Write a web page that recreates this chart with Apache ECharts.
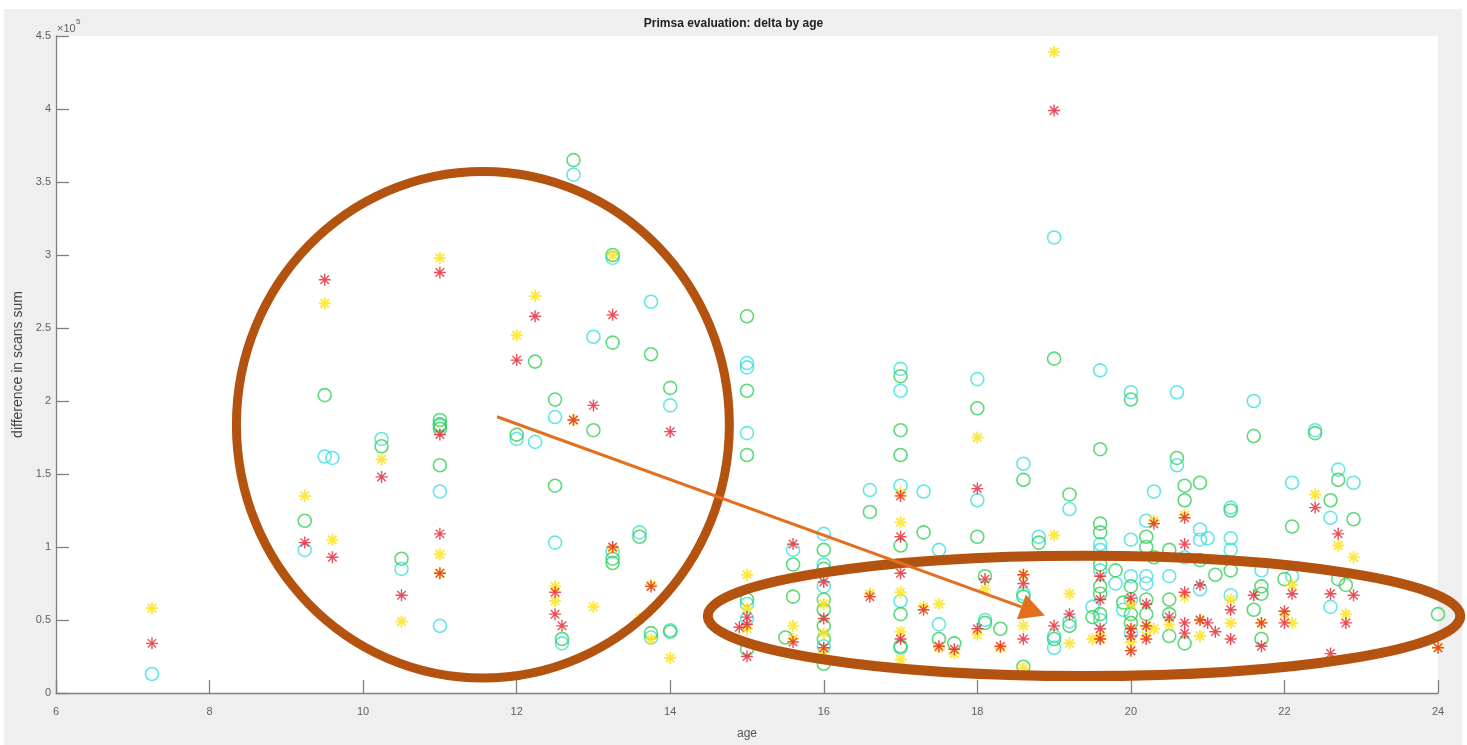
<!DOCTYPE html>
<html><head><meta charset="utf-8">
<script src="https://cdn.jsdelivr.net/npm/echarts@6/dist/echarts.min.js"></script>
<style>
html,body{margin:0;padding:0;background:#fff;}
#bg{position:absolute;left:4px;top:9px;width:1458px;height:736px;background:#efefef;}
#c{position:absolute;left:0;top:0;width:1467px;height:745px;}
</style>
</head><body><div id="bg"></div><div id="c"></div>
<script>
// values in units of 1e5 (scan-sum difference), x = age
const xTicks = [6, 8, 10, 12, 14, 16, 18, 20, 22, 24];
const yTicks = [0, 0.5, 1, 1.5, 2, 2.5, 3, 3.5, 4, 4.5];

const cyanPts = [
[7.25,0.13],[9.24,0.98],[9.5,1.62],[9.6,1.61],[10.24,1.74],[10.5,0.85],[11.0,1.83],[11.0,1.38],[11.0,0.46],
[12.0,1.74],[12.24,1.72],[12.5,1.89],[12.5,1.03],[12.59,0.34],[12.74,3.55],[13.0,2.44],[13.25,2.98],[13.25,0.97],[13.6,1.10],[13.75,2.68],[13.75,0.38],[14.0,1.97],[14.0,0.43],
[15.0,2.26],[15.0,2.23],[15.0,1.78],[15.0,0.61],[15.0,0.51],[15.6,0.98],[16.0,1.09],[16.0,0.88],[16.0,0.73],[16.0,0.32],
[16.6,1.39],[17.0,2.22],[17.0,2.07],[17.0,1.42],[17.0,0.63],[17.0,0.31],[17.3,1.38],[17.5,0.98],[17.5,0.47],
[18.0,2.15],[18.0,1.32],[18.1,0.50],[18.6,1.57],[18.6,0.68],[18.8,1.07],[19.0,3.12],[19.0,0.39],[19.0,0.31],
[19.2,1.26],[19.2,0.49],[19.5,0.59],[19.6,2.21],[19.6,1.02],[19.6,0.98],[19.6,0.84],[19.6,0.50],[19.8,0.75],[19.9,0.57],
[20.0,2.06],[20.0,1.05],[20.0,0.80],[20.0,0.64],[20.0,0.41],[20.2,1.18],[20.2,0.80],[20.2,0.75],[20.3,1.38],[20.5,0.80],
[20.6,2.06],[20.6,1.56],[20.7,0.93],[20.9,1.12],[20.9,1.05],[20.9,0.71],[21.0,1.06],[21.3,1.27],[21.3,1.06],[21.3,0.98],[21.3,0.67],
[21.6,2.0],[21.7,0.84],[22.1,1.44],[22.1,0.80],[22.4,1.80],[22.6,1.20],[22.6,0.59],[22.7,1.53],[22.9,1.44]
];
const greenPts = [
[9.24,1.18],[9.5,2.04],[10.24,1.69],[10.5,0.92],[11.0,1.87],[11.0,1.84],[11.0,1.81],[11.0,1.56],
[12.0,1.77],[12.24,2.27],[12.5,2.01],[12.5,1.42],[12.59,0.37],[12.74,3.65],[13.0,1.80],[13.25,3.0],[13.25,2.40],[13.25,0.92],[13.25,0.89],[13.6,1.07],[13.75,2.32],[13.75,0.41],[14.0,2.09],[14.0,0.42],
[15.0,2.58],[15.0,2.07],[15.0,1.63],[15.0,0.64],[15.0,0.30],[15.6,0.88],[15.6,0.66],[15.5,0.38],
[16.0,0.98],[16.0,0.85],[16.0,0.64],[16.0,0.57],[16.0,0.46],[16.0,0.37],[16.0,0.20],
[16.6,1.24],[17.0,2.17],[17.0,1.80],[17.0,1.63],[17.0,1.01],[17.0,0.54],[17.0,0.32],[17.3,1.10],[17.5,0.37],[17.7,0.34],
[18.0,1.95],[18.0,1.07],[18.1,0.80],[18.1,0.48],[18.3,0.44],[18.6,1.46],[18.6,0.66],[18.6,0.18],[18.8,1.03],
[19.0,2.29],[19.0,0.37],[19.2,1.36],[19.2,0.46],[19.5,0.52],
[19.6,1.67],[19.6,1.16],[19.6,1.10],[19.6,0.88],[19.6,0.73],[19.6,0.68],[19.6,0.54],[19.8,0.84],[19.9,0.62],
[20.0,2.01],[20.0,0.73],[20.0,0.54],[20.0,0.48],[20.2,1.07],[20.2,1.00],[20.2,0.64],[20.2,0.54],[20.3,0.93],
[20.5,0.98],[20.5,0.64],[20.5,0.54],[20.5,0.39],[20.6,1.61],[20.7,1.42],[20.7,1.32],[20.7,0.34],[20.9,1.44],[20.9,0.91],
[21.1,0.81],[21.3,1.25],[21.3,0.84],[21.6,1.76],[21.6,0.57],[21.7,0.73],[21.7,0.68],[21.7,0.37],[22.0,0.78],[22.1,1.14],
[22.4,1.78],[22.6,1.32],[22.7,1.46],[22.7,0.78],[22.8,0.74],[22.9,1.19],[24.0,0.54]
];
const yellowPts = [
[7.25,0.58],[9.24,1.35],[9.5,2.67],[9.6,1.05],[10.24,1.60],[10.5,0.49],[11.0,2.98],[11.0,0.95],[11.0,0.82],
[12.0,2.45],[12.24,2.72],[12.5,0.73],[12.5,0.63],[12.74,1.87],[13.0,0.59],[13.25,3.0],[13.25,0.99],[13.6,0.51],[13.75,0.74],[13.75,0.37],[14.0,0.24],
[15.0,0.81],[15.0,0.58],[15.0,0.44],[15.6,0.46],[15.6,0.37],[16.0,0.61],[16.0,0.41],[16.0,0.28],[16.6,0.68],
[17.0,1.37],[17.0,1.17],[17.0,0.69],[17.0,0.42],[17.0,0.23],[17.3,0.59],[17.5,0.61],[17.5,0.31],[17.7,0.27],
[18.0,1.75],[18.0,0.40],[18.1,0.71],[18.3,0.31],[18.6,0.81],[18.6,0.46],[18.6,0.17],[19.0,4.39],[19.0,1.08],
[19.2,0.68],[19.2,0.34],[19.5,0.37],[19.6,0.39],[19.6,0.37],[20.0,0.61],[20.0,0.44],[20.0,0.35],[20.0,0.29],
[20.2,0.46],[20.2,0.39],[20.3,1.18],[20.3,0.44],[20.5,0.47],[20.7,1.22],[20.7,0.66],[20.9,0.50],[20.9,0.39],
[21.3,0.64],[21.3,0.48],[21.7,0.48],[22.0,0.54],[22.1,0.74],[22.1,0.48],[22.4,1.36],[22.7,1.01],[22.8,0.54],[22.9,0.93],[24.0,0.31]
];
const redPts = [
[7.25,0.34],[9.24,1.03],[9.5,2.83],[9.6,0.93],[10.24,1.48],[10.5,0.67],[11.0,2.88],[11.0,1.77],[11.0,1.09],[11.0,0.82],
[12.0,2.28],[12.24,2.58],[12.5,0.69],[12.5,0.54],[12.59,0.46],[12.74,1.87],[13.0,1.97],[13.25,2.59],[13.25,1.0],[13.75,0.73],[14.0,1.79],
[15.0,0.52],[15.0,0.47],[14.9,0.45],[15.0,0.25],[15.6,1.02],[15.6,0.35],[16.0,0.76],[16.0,0.51],[16.0,0.31],[16.6,0.66],
[17.0,1.35],[17.0,1.07],[17.0,0.82],[17.0,0.37],[17.3,0.57],[17.5,0.32],[17.7,0.30],
[18.0,1.40],[18.0,0.44],[18.1,0.78],[18.3,0.32],[18.6,0.81],[18.6,0.75],[18.6,0.37],[19.0,3.99],[19.0,0.46],
[19.2,0.54],[19.6,0.80],[19.6,0.64],[19.6,0.44],[19.6,0.37],[20.0,0.65],[20.0,0.44],[20.0,0.39],[20.0,0.29],
[20.2,0.61],[20.2,0.46],[20.2,0.37],[20.3,1.16],[20.5,0.52],[20.7,1.20],[20.7,1.02],[20.7,0.69],[20.7,0.48],[20.7,0.41],
[20.9,0.74],[20.9,0.50],[21.0,0.48],[21.1,0.42],[21.3,0.57],[21.3,0.37],[21.6,0.67],[21.7,0.48],[21.7,0.32],
[22.0,0.56],[22.0,0.48],[22.1,0.68],[22.4,1.27],[22.6,0.68],[22.6,0.27],[22.7,1.09],[22.8,0.48],[22.9,0.67],[24.0,0.31]
];

// annotation shapes in data units (age, value)
const leftRing = {age: 11.56, val: 1.8375, rAge: 3.21, rVal: 1.735};
const rightRing = {age: 19.39, val: 0.5276, rAge: 4.9, rVal: 0.412};
const arrowFrom = [11.744, 1.892];
const arrowTo = [18.88, 0.531];

const FONT = '"Liberation Sans", Arial, sans-serif';
const AX = '#808080';
const asterisk = 'path://M6 0L6 12M0 6L12 6M1.76 1.76L10.24 10.24M1.76 10.24L10.24 1.76';

function circleSeries(name, data, color) {
  return {name, type: 'scatter', data, symbol: 'circle', symbolSize: 13,
    itemStyle: {color: 'rgba(0,0,0,0)', borderColor: color, borderWidth: 1.6},
    emphasis: {disabled: true}, z: 2};
}
function starSeries(name, data, color, w, size) {
  return {name, type: 'scatter', data, symbol: asterisk, symbolSize: size,
    itemStyle: {color: 'rgba(0,0,0,0)', borderColor: color, borderWidth: w},
    emphasis: {disabled: true}, z: 3};
}

const chart = echarts.init(document.getElementById('c'), null, {renderer: 'canvas'});
const option = {
  animation: false,
  backgroundColor: 'transparent',
  textStyle: {fontFamily: FONT},
  title: {text: 'Primsa evaluation: delta by age', left: 'center', top: 18, padding: 0,
    textStyle: {fontFamily: FONT, fontSize: 12, fontWeight: 'bold', color: '#222'}},
  grid: {left: 56, right: 29, top: 36, bottom: 48, show: true, backgroundColor: '#fff', borderWidth: 0},
  xAxis: {type: 'value', min: xTicks[0], max: xTicks[xTicks.length - 1], interval: xTicks[1] - xTicks[0],
    name: 'age', nameLocation: 'middle', nameGap: 35,
    nameTextStyle: {fontFamily: FONT, fontSize: 12, color: '#555'},
    axisLine: {show: true, onZero: false, lineStyle: {color: AX, width: 1.3}},
    axisTick: {show: true, inside: true, length: 13, lineStyle: {color: AX, width: 1.3}},
    axisLabel: {fontFamily: FONT, fontSize: 11, color: '#606060', margin: 13},
    splitLine: {show: false}},
  yAxis: {type: 'value', min: yTicks[0], max: yTicks[yTicks.length - 1], interval: yTicks[1] - yTicks[0],
    name: 'difference in scans sum', nameLocation: 'middle', nameGap: 28,
    nameTextStyle: {fontFamily: FONT, fontSize: 14, color: '#444'},
    axisLine: {show: true, onZero: false, lineStyle: {color: AX, width: 1.3}},
    axisTick: {show: true, inside: true, length: 13, lineStyle: {color: AX, width: 1.3}},
    axisLabel: {fontFamily: FONT, fontSize: 11, color: '#606060', margin: 5},
    splitLine: {show: false}},
  series: [
    circleSeries('cyan', cyanPts, '#3fe0df'),
    circleSeries('green', greenPts, '#35cf55'),
    starSeries('yellow', yellowPts, '#fbe31a', 2, 12),
    starSeries('red', redPts, '#e5222e', 1.4, 12)
  ]
};
chart.setOption(option);

function px(p) { return chart.convertToPixel({gridIndex: 0}, p); }
function ringShape(r) {
  const c = px([r.age, r.val]);
  const e = px([r.age + r.rAge, r.val + r.rVal]);
  return {cx: c[0], cy: c[1], rx: Math.abs(e[0] - c[0]), ry: Math.abs(c[1] - e[1])};
}
const a0 = px(arrowFrom), a1 = px(arrowTo);
const dx = a1[0] - a0[0], dy = a1[1] - a0[1], L = Math.hypot(dx, dy);
const ux = dx / L, uy = dy / L, head = 25, hw = 13;
const base = [a1[0] - ux * head, a1[1] - uy * head];
const o = px([xTicks[0], yTicks[yTicks.length - 1]]);

chart.setOption({graphic: [
  {type: 'text', left: o[0] + 1, top: o[1] - 13, z: 50,
    style: {text: '×10', font: '11px ' + FONT, fill: '#606060'}},
  {type: 'text', left: o[0] + 20, top: o[1] - 18, z: 50,
    style: {text: '5', font: '8px ' + FONT, fill: '#606060'}},
  {type: 'ellipse', shape: ringShape(leftRing), z: 100,
    style: {fill: 'none', stroke: '#b4520f', lineWidth: 9}},
  {type: 'ellipse', shape: ringShape(rightRing), z: 100,
    style: {fill: 'none', stroke: '#b4520f', lineWidth: 10}},
  {type: 'line', shape: {x1: a0[0], y1: a0[1], x2: base[0], y2: base[1]}, z: 101,
    style: {stroke: '#e2701f', lineWidth: 3}},
  {type: 'polygon', shape: {points: [a1, [base[0] - uy * hw, base[1] + ux * hw], [base[0] + uy * hw, base[1] - ux * hw]]}, z: 101,
    style: {fill: '#e2701f'}}
]});
</script>
</body></html>
